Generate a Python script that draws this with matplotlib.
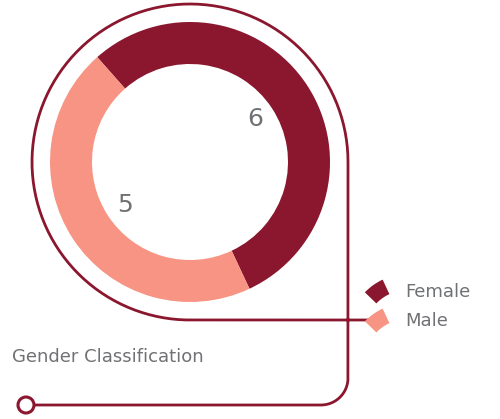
import numpy as np
import matplotlib
matplotlib.use("Agg")
import matplotlib.pyplot as plt
from matplotlib.patches import Wedge, Circle

# data
categories = ["Female", "Male"]
counts = [6, 5]
colors = ["#8B172E", "#F79483"]
title = "Gender Classification"

line_color = "#8B172E"
text_color = "#707174"

W, H = 500, 419
fig = plt.figure(figsize=(W / 100, H / 100), dpi=100)
ax = fig.add_axes([0, 0, 1, 1])

cx, cy = 190, 257
r_out = 140
start = 131.5

wedges, _ = ax.pie(counts, colors=colors, center=(cx, cy), radius=r_out,
                   startangle=start, counterclock=False,
                   wedgeprops=dict(width=42, linewidth=0))

# value labels inside the ring
for w, v in zip(wedges, counts):
    mid = np.deg2rad((w.theta1 + w.theta2) / 2)
    ax.text(cx + 78 * np.cos(mid), cy + 78 * np.sin(mid), str(v),
            fontsize=18, color=text_color, ha="center", va="center")

# decorative path: from legend, around the donut, down and back left
r_line = 158
xs = [370, cx]
ys = [cy - r_line, cy - r_line]
t = np.deg2rad(np.linspace(270, 0, 200))
xs += list(cx + r_line * np.cos(t))
ys += list(cy + r_line * np.sin(t))
xr = cx + r_line
rc = 27
yb = 14
xs += [xr]
ys += [yb + rc]
t = np.deg2rad(np.linspace(0, -90, 40))
xs += list(xr - rc + rc * np.cos(t))
ys += list(yb + rc + rc * np.sin(t))
xs += [34]
ys += [yb]
ax.plot(xs, ys, color=line_color, lw=2, solid_capstyle="butt", zorder=1)
ax.add_patch(Circle((26, yb), 8, facecolor="white", edgecolor=line_color,
                    lw=2.2, zorder=3))

# legend
for i, (name, c) in enumerate(zip(categories, colors)):
    ly = 127 - i * 29
    ax.add_patch(Wedge((408, ly - 42), 60, 115, 136, width=16,
                       facecolor=c, edgecolor="none", zorder=4))
    ax.text(405, ly, name, fontsize=13, color=text_color,
            ha="left", va="center")

ax.text(12, 62, title, fontsize=13, color=text_color, ha="left", va="center")

ax.set_xlim(0, W)
ax.set_ylim(0, H)
ax.set_aspect("auto")
ax.axis("off")

fig.savefig("out.png", dpi=100, facecolor="white")
